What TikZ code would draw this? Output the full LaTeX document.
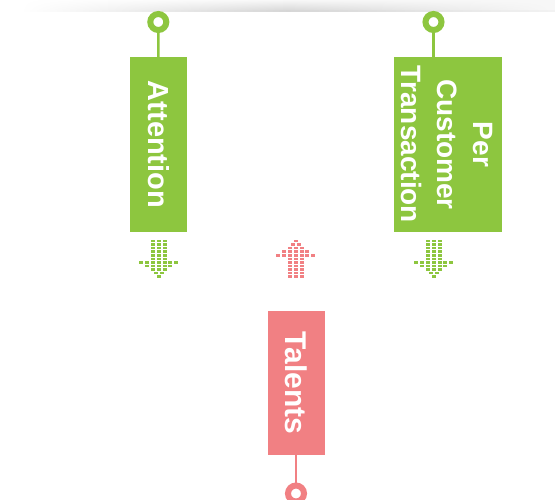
\documentclass[tikz,border=0pt]{standalone}
\usepackage{fontspec}
\setmainfont{Liberation Sans}

\definecolor{leaf}{RGB}{141,198,63}
\definecolor{coral}{RGB}{241,128,131}

% one small block of a dotted arrow: #1 colour, #2 x, #3 y
\newcommand{\pixdot}[3]{\fill[#1] ({#2-2},{#3-1.25}) rectangle ({#2+2},{#3+1.25});}

% dotted arrow pointing down: #1 colour, #2 centre x, #3 top y
\newcommand{\dotsdown}[3]{%
  \foreach \r/\ks in {0/{-1,0,1},1/{-1,0,1},2/{-1,0,1},3/{-1,0,1},4/{-1,0,1},5/{-1,0,1},
                      6/{-3,-2,-1,0,1,2,3},7/{-2,-1,0,1,2},8/{-1,0,1},9/{-0.5,0.5},10/{0}}{
    \foreach \k in \ks {\pixdot{#1}{#2+\k*5.8}{#3+\r*3.57}}}}

% dotted arrow pointing up: #1 colour, #2 centre x, #3 top y
\newcommand{\dotsup}[3]{%
  \foreach \r/\ks in {0/{0},1/{-0.5,0.5},2/{-1,0,1},3/{-2,-1,0,1,2},4/{-3,-2,-1,0,1,2,3},
                      5/{-1,0,1},6/{-1,0,1},7/{-1,0,1},8/{-1,0,1},9/{-1,0,1},10/{-1,0,1}}{
    \foreach \k in \ks {\pixdot{#1}{#2+\k*5.8}{#3+\r*3.57}}}}

\begin{document}
\begin{tikzpicture}[x=1pt,y=-1pt,
  ring/.style={circle, draw=#1, line width=6pt, fill=white, minimum size=16pt, inner sep=0pt},
  panel/.style={rectangle, fill=#1, draw=none, inner sep=0pt},
  stem/.style={draw=#1, line width=2.5pt},
  caption/.style={rotate=-90, text=white, align=center, inner sep=0pt,
                  font=\bfseries\fontsize{#1}{36}\selectfont},
  caption/.default=28]

\useasboundingbox (0,0) rectangle (555,499);

% shadow strip along the top edge, darkening towards its lower rim
\foreach \i in {0,...,9}
  \shade[left color=white, right color=white!97!black, middle color=white!\fpeval{97-1.2*\i}!black]
    (20,\i) rectangle (555,\i+1.05);
\shade[left color=white, right color=white!95!black, middle color=white!84!black] (20,10) rectangle (555,11.5);

% Attention
\node[panel=leaf, minimum width=57pt, minimum height=175pt] (att) at (158.5,144.5) {};
\node[caption=29] (atttxt) at (att.center) {Attention};
\node[ring=leaf] (attpin) at (158.3,22) {};
\draw[stem=leaf] (attpin) -- (att);

% Per Customer Transaction
\node[panel=leaf, minimum width=108pt, minimum height=175pt] (pct) at (448,144.5) {};
\node[caption=28] (pcttxt) at (446.5,144.5) {Per\\Customer\\Transaction};
\node[ring=leaf] (pctpin) at (433.5,22) {};
\draw[stem=leaf] (pctpin) -- (pctpin |- pct.north);

% Talents
\node[panel=coral, minimum width=57pt, minimum height=144pt] (tal) at (296.5,383) {};
\node[caption=30] (taltxt) at (tal.center) {Talents};
\node[ring=coral] (talpin) at (296,493.5) {};
\draw[stem=coral] (talpin) -- (talpin |- tal.south);

% dotted arrows between the rows
\dotsdown{leaf}{158.7}{241}
\dotsup{coral}{295.7}{241}
\dotsdown{leaf}{433.7}{241}

\end{tikzpicture}
\end{document}
